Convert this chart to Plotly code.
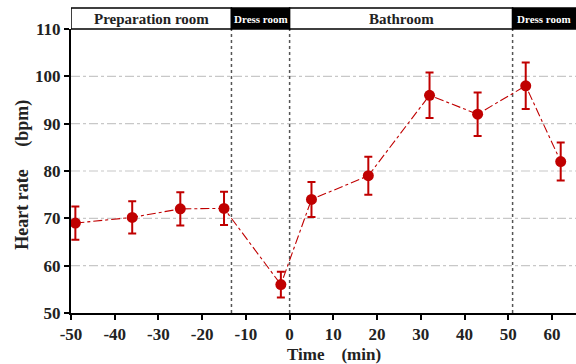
import plotly.graph_objects as go

# Data
time_min = [-49, -36, -25, -15, -2, 5, 18, 32, 43, 54, 62]
heart_rate = [69, 70.2, 72, 72.1, 56, 74, 79, 96, 92, 98, 82]
hr_error = [3.5, 3.4, 3.5, 3.5, 2.7, 3.7, 4.0, 4.8, 4.6, 4.9, 4.0]

room_names = ["Preparation room", "Dress room", "Bathroom", "Dress room"]
room_bounds = [-50, -13.3, 0, 51, 65.5]
room_dark = [False, True, False, True]

x_ticks = [-50, -40, -30, -20, -10, 0, 10, 20, 30, 40, 50, 60]
y_ticks = [50, 60, 70, 80, 90, 100, 110]

RED = "#C00000"
FONT = "Liberation Serif"

fig = go.Figure()

fig.add_trace(go.Scatter(
    x=time_min, y=heart_rate,
    mode="lines+markers",
    line=dict(color=RED, width=1.1, dash="dashdot"),
    marker=dict(color=RED, size=11, symbol="circle"),
    error_y=dict(type="data", array=hr_error, visible=True,
                 color=RED, thickness=2, width=4),
    showlegend=False,
    cliponaxis=False,
))

# horizontal gridlines (dash-dot gray)
for yv in [60, 70, 80, 90, 100]:
    fig.add_shape(type="line", xref="paper", yref="y", x0=0, x1=1, y0=yv, y1=yv,
                  line=dict(color="#c8c8c8", width=1.2, dash="dashdot"), layer="below")

# vertical room separators
for xb in room_bounds[1:-1]:
    fig.add_shape(type="line", xref="x", yref="y", x0=xb, x1=xb, y0=50, y1=110,
                  line=dict(color="#555555", width=1.5, dash="dot"), layer="below")

# top band with room labels
band_top = 1 + 21 / 284
for i, name in enumerate(room_names):
    x0, x1 = room_bounds[i], room_bounds[i + 1]
    dark = room_dark[i]
    fig.add_shape(type="rect", xref="x", yref="paper", x0=x0, x1=x1, y0=1, y1=band_top,
                  fillcolor="black" if dark else "white",
                  line=dict(color="black", width=1.5), layer="above")
    fig.add_annotation(x=(x0 + x1) / 2, y=(1 + band_top) / 2, xref="x", yref="paper",
                       text=f"<b>{name}</b>", showarrow=False,
                       font=dict(family=FONT, size=11 if dark else 15,
                                 color="white" if dark else "#222222"),
                       xanchor="center", yanchor="middle")

# axis titles
fig.add_annotation(x=-0.096, y=0.485, xref="paper", yref="paper",
                   text="<b>Heart rate　 (bpm)</b>", textangle=-90, showarrow=False,
                   font=dict(family=FONT, size=18, color="#222222"),
                   xanchor="center", yanchor="middle")
fig.add_annotation(x=0.52, y=-0.146, xref="paper", yref="paper",
                   text="<b>Time　(min)</b>", showarrow=False,
                   font=dict(family=FONT, size=17, color="#222222"),
                   xanchor="center", yanchor="middle")

fig.update_xaxes(
    range=[room_bounds[0], room_bounds[-1]],
    tickvals=x_ticks, ticktext=[str(v) for v in x_ticks],
    ticks="outside", ticklen=5, tickwidth=1.5, tickcolor="black",
    showline=True, linecolor="black", linewidth=2,
    showgrid=False, zeroline=False,
    tickfont=dict(family=FONT, size=17, color="#222222", weight="bold"),
)
fig.update_yaxes(
    range=[50, 110],
    tickvals=y_ticks, ticktext=[str(v) for v in y_ticks],
    ticks="outside", ticklen=5, tickwidth=1.5, tickcolor="black",
    showline=True, linecolor="black", linewidth=2,
    showgrid=False, zeroline=False,
    tickfont=dict(family=FONT, size=17, color="#222222", weight="bold"),
)

fig.update_layout(
    width=576, height=364,
    margin=dict(l=71, r=0, t=29, b=51),
    plot_bgcolor="white", paper_bgcolor="white",
)

fig.write_html("out.html", config={"displayModeBar": False},
               post_script="document.body.style.margin='0';")
